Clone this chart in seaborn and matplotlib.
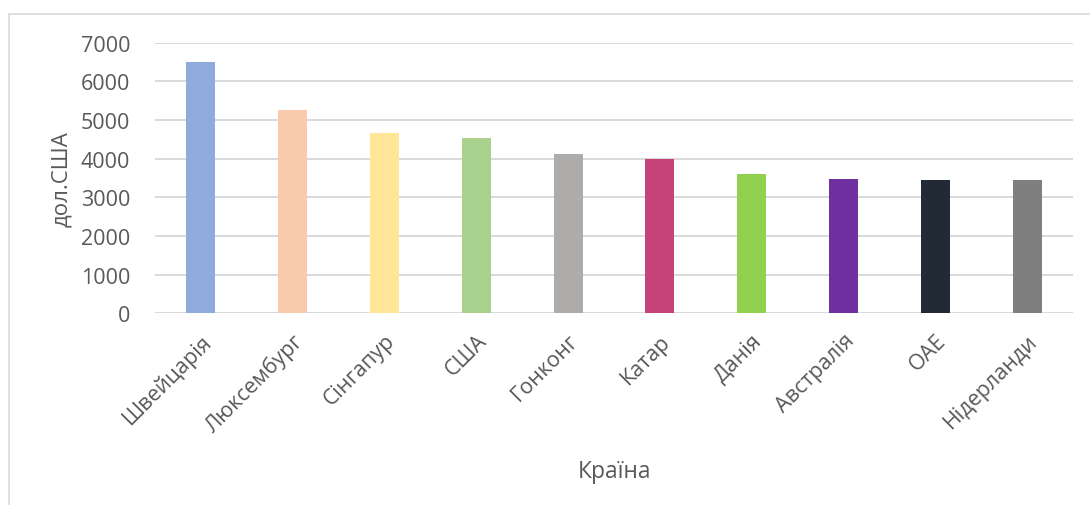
import matplotlib
matplotlib.use("Agg")
import matplotlib.pyplot as plt
import pandas as pd
import seaborn as sns
from matplotlib.lines import Line2D

countries = ["Швейцарія", "Люксембург", "Сінгапур", "США", "Гонконг",
             "Катар", "Данія", "Австралія", "ОАЕ", "Нідерланди"]
values = [6500, 5260, 4665, 4535, 4120, 3995, 3605, 3475, 3450, 3450]
colors = ["#8FAADC", "#F8CBAD", "#FFE699", "#A9D18E", "#AEABAB",
          "#C5427A", "#92D050", "#7030A0", "#222A35", "#7F7F7F"]
y_ticks = [0, 1000, 2000, 3000, 4000, 5000, 6000, 7000]

sns.set_theme(style="white")
plt.rcParams["font.family"] = ["Open Sans", "DejaVu Sans"]

df = pd.DataFrame({"country": countries, "value": values})

W, H = 1090, 506
fig = plt.figure(figsize=(W / 100, H / 100), dpi=100)
ax = fig.add_axes([155 / W, 1 - 314.3 / H, (1073 - 155) / W, (314.3 - 43.7) / H])

sns.barplot(data=df, x="country", y="value", hue="country", palette=colors,
            width=0.316, legend=False, saturation=1, linewidth=0, ax=ax)

ax.set_ylim(0, 7000)
ax.set_xlim(-0.5, len(countries) - 0.5)
ax.set_yticks(y_ticks)
ax.set_axisbelow(True)
ax.yaxis.grid(True, color="#D9D9D9", linewidth=1.4)
ax.xaxis.grid(False)
for s in ax.spines.values():
    s.set_visible(False)
ax.tick_params(axis="both", length=0, colors="#595959", labelsize=15.5)
ax.tick_params(axis="y", pad=18)
ax.tick_params(axis="x", pad=12)
plt.setp(ax.get_xticklabels(), rotation=45, ha="right", rotation_mode="anchor")

ax.set_xlabel("Країна", fontsize=16.5, color="#595959", labelpad=16)
ax.set_ylabel("дол.США", fontsize=16, color="#595959", labelpad=6)

# chart area border
fig.add_artist(Line2D([9 / W, 1], [1 - 15 / H, 1 - 15 / H], color="#D9D9D9", linewidth=1.2))
fig.add_artist(Line2D([9 / W, 9 / W], [0, 1 - 15 / H], color="#D9D9D9", linewidth=1.2))

fig.savefig("out.png", dpi=100)
